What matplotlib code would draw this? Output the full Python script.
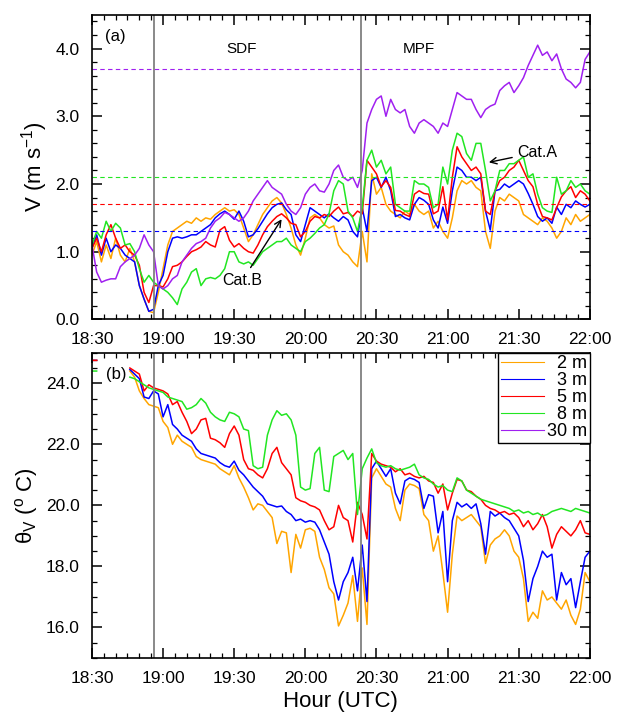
import numpy as np
import matplotlib.pyplot as plt
from matplotlib.ticker import MultipleLocator, FormatStrFormatter

plt.rcParams['font.family'] = ['Liberation Sans', 'DejaVu Sans']
plt.rcParams['mathtext.fontset'] = 'custom'
plt.rcParams['mathtext.rm'] = 'Liberation Sans'
plt.rcParams['mathtext.it'] = 'Liberation Sans:italic'

nan = np.nan

# time axis: minutes after 18:30 UTC, sampled every 2 min
minutes = np.arange(0, 211, 2)
hour_ticks = [0, 30, 60, 90, 120, 150, 180, 210]
hour_labels = ['18:30', '19:00', '19:30', '20:00', '20:30', '21:00', '21:30', '22:00']
heights = ['2 m', '3 m', '5 m', '8 m', '30 m']
colors = ['#FFA500', '#0000FF', '#FF0000', '#22E622', '#A020F0']

# front passages (minutes after 18:30)
front_times = [26, 113.3]

# mean wind speed reference levels (dashed)
ref_heights = ['3 m', '5 m', '8 m', '30 m']
ref_values = [1.3, 1.7, 2.1, 3.7]

# (a) wind speed V (m/s)
v_2m = [0.95, 1.15, 0.85, 1.1, 0.9, 1.2, 0.95, 0.85, 1.05, 0.85,
        0.5, 0.3, 0.12, 0.1, 0.4, 0.75, 1.1, 1.3, 1.35, 1.4,
        1.45, 1.42, 1.5, 1.45, 1.5, 1.48, 1.55, 1.6, 1.65, 1.6,
        1.62, 1.55, 1.35, 1.15, 1.25, 1.4, 1.55, 1.65, 1.75, 1.8,
        1.72, 1.55, 1.35, 1.1, 0.95, 1.2, 1.5, 1.55, 1.5, 1.4,
        1.35, 1.38, 1.1, 1.0, 0.95, 0.85, 0.78, 1.3, 0.85, 2.15,
        1.85, 1.95, 1.7, 1.6, 1.55, 1.5, 1.6, 1.55, 1.7, 1.6,
        1.55, 1.6, 1.35, 1.45, 1.3, 1.2, 1.5, 1.9, 2.05, 2.0,
        2.05, 1.95, 1.9, 1.3, 1.05, 1.6, 1.8, 1.75, 1.85, 1.8,
        1.75, 1.55, 1.5, 1.45, 1.4, 1.5, 1.45, 1.35, 1.2, 1.3,
        1.5, 1.4, 1.55, 1.45, 1.5, 1.55]
v_3m = [1.05, 1.25, 0.95, 1.2, 1.0, 1.1, 1.05, 0.95, 0.9, 0.85,
        0.5, 0.3, 0.12, 0.15, 0.5, 0.65, 1.0, 1.2, 1.22, 1.2,
        1.22, 1.25, 1.25, 1.3, 1.35, 1.4, 1.5, 1.56, 1.6, 1.55,
        1.48, 1.6, 1.45, 1.22, 1.25, 1.34, 1.45, 1.56, 1.65, 1.7,
        1.72, 1.62, 1.55, 1.25, 1.15, 1.4, 1.65, 1.6, 1.55, 1.5,
        1.56, 1.5, 1.45, 1.52, 1.47, 1.3, 1.22, 1.65, 1.3, 2.05,
        2.1, 1.95, 2.1, 1.9, 1.52, 1.55, 1.5, 1.47, 1.7, 1.8,
        1.76, 1.7, 1.47, 1.35, 1.66, 1.42, 1.9, 2.25, 2.2, 2.1,
        2.1, 2.05, 2.1, 1.6, 1.32, 1.9, 1.92, 2.0, 1.95, 2.0,
        2.05, 2.0, 1.86, 1.7, 1.52, 1.45, 1.5, 1.42, 1.66, 1.55,
        1.7, 1.65, 1.75, 1.7, 1.66, 1.7]
v_5m = [1.05, 1.2, 1.0, 1.25, 1.4, 1.2, 1.05, 1.1, 1.0, 0.95,
        0.8, 0.4, 0.25, 0.5, 0.5, 0.48, 0.6, 0.78, 0.8, 0.85,
        0.93, 1.0, 1.03, 1.07, 1.15, 1.1, 1.07, 1.32, 1.37, 1.17,
        1.07, 1.12, 1.05, 1.0, 0.98, 1.1, 1.25, 1.37, 1.45, 1.52,
        1.56, 1.5, 1.42, 1.4, 1.22, 1.3, 1.45, 1.52, 1.5, 1.55,
        1.52, 1.6, 1.66, 1.56, 1.58, 1.52, 1.6, 1.56, 2.35, 2.25,
        2.15, 1.96, 2.05, 1.95, 1.61, 1.6, 1.55, 1.52, 1.85, 1.9,
        1.86, 1.85, 1.56, 1.6, 1.96, 1.47, 2.1, 2.55, 2.4, 2.3,
        2.2, 2.25, 2.15, 1.6, 1.55, 1.9, 2.05, 2.1, 2.2, 2.25,
        2.35, 2.2, 2.05, 1.96, 1.7, 1.52, 1.5, 1.47, 1.65, 1.81,
        1.9, 1.96, 1.8, 1.9, 1.85, 1.75]
v_8m = [1.1, 1.3, 1.2, 1.45, 1.3, 1.42, 1.35, 1.1, 1.12, 1.0,
        0.75, 0.55, 0.65, 0.55, 0.5, 0.45, 0.4, 0.32, 0.22, 0.45,
        0.55, 0.7, 0.75, 0.5, 0.6, 0.62, 0.6, 0.65, 0.75, 1.0,
        1.0, 0.85, 0.82, 0.85, 0.8, 0.9, 1.0, 1.05, 1.1, 1.15,
        1.15, 1.2, 1.1, 1.05, 1.0, 1.15, 1.2, 1.27, 1.35, 1.4,
        1.56, 1.9, 2.05, 2.0, 1.6, 1.5, 1.3, 1.65, 2.35, 2.5,
        2.25, 2.35, 2.15, 2.25, 1.7, 1.65, 1.6, 1.6, 2.05, 2.0,
        2.0, 1.95, 1.65, 1.7, 2.25, 2.0, 2.5, 2.75, 2.7, 2.45,
        2.35, 2.6, 2.6, 2.2, 1.75, 1.9, 2.2, 2.2, 2.3, 2.3,
        2.35, 2.4, 2.1, 2.15, 1.85, 1.65, 1.6, 1.58, 2.1, 1.85,
        1.9, 2.05, 1.95, 2.0, 1.9, 1.85]
v_30m = [1.1, 0.7, 0.55, 0.58, 0.6, 0.6, 0.78, 0.85, 0.9, 0.95,
         1.05, 1.25, 1.1, 1.0, 0.5, 0.45, 0.5, 0.6, 0.65, 0.85,
         0.95, 1.05, 1.12, 1.15, 1.2, 1.35, 1.45, 1.5, 1.58, 1.55,
         1.5, 1.45, 1.5, 1.6, 1.75, 1.85, 1.95, 2.05, 1.95, 1.9,
         1.85, 1.7, 1.6, 1.55, 1.65, 1.85, 1.95, 2.0, 1.9, 1.88,
         2.0, 2.2, 2.28, 2.1, 2.05, 2.1, 1.95, 2.2, 2.9, 3.1,
         3.25, 3.3, 3.0, 3.25, 3.1, 3.05, 3.1, 2.85, 2.75, 2.9,
         2.95, 2.9, 2.85, 2.75, 2.9, 2.85, 3.1, 3.35, 3.3, 3.25,
         3.25, 3.1, 2.98, 3.1, 3.15, 3.18, 3.38, 3.45, 3.5, 3.35,
         3.45, 3.57, 3.75, 3.9, 4.05, 3.9, 3.95, 3.82, 3.92, 3.7,
         3.55, 3.5, 3.42, 3.5, 3.84, 3.95]

# (b) virtual potential temperature (deg C); no 30 m sensor
th_2m = [24.75, 24.75, nan, nan, nan, nan, nan, nan, 24.4, 24.2,
         23.75, 23.5, 23.3, 23.25, 23.2, 22.75, 22.55, 22.0, 22.3, 22.1,
         22.0, 21.9, 21.6, 21.5, 21.45, 21.4, 21.35, 21.2, 21.1, 21.0,
         21.3, 20.9, 20.6, 20.25, 19.85, 20.05, 20.0, 19.8, 19.6, 18.75,
         19.15, 19.1, 17.8, 19.05, 18.6, 19.2, 19.25, 19.15, 18.3, 17.9,
         17.3, 17.1, 16.05, 16.4, 16.8, 17.7, 16.2, 17.95, 16.1, 20.9,
         21.2, 20.95, 20.7, 20.6, 19.9, 19.5, 20.5, 20.7, 20.65, 20.55,
         19.7, 19.5, 18.5, 19.0, 17.8, 16.5, 18.4, 19.65, 19.5, 19.6,
         19.7, 19.5, 19.3, 18.1, 18.7, 18.9, 19.0, 19.2, 19.0, 18.5,
         18.3, 17.6, 16.2, 16.5, 16.3, 17.2, 16.9, 17.0, 16.8, 16.6,
         16.9, 16.4, 16.1, 16.6, 17.8, 17.5]
th_3m = [24.75, 24.75, nan, nan, nan, nan, nan, nan, 24.45, 24.3,
         24.15, 23.55, 23.5, 23.75, 23.65, 22.9, 23.3, 22.65, 22.5, 22.3,
         22.2, 22.1, 21.85, 21.7, 21.65, 21.6, 21.55, 21.4, 21.3, 21.25,
         21.45, 21.15, 21.0, 20.8, 20.6, 20.45, 20.3, 20.05, 20.0, 19.95,
         19.98, 19.8, 19.7, 19.5, 19.55, 19.45, 19.5, 19.45, 19.2, 18.8,
         18.4, 17.5, 16.9, 17.5, 17.8, 18.3, 17.2, 18.7, 16.85, 21.2,
         21.45, 21.2, 20.95, 21.2, 20.4, 20.05, 20.8, 20.9, 20.85, 20.75,
         19.9, 20.35, 20.3, 19.1, 19.8, 17.5, 19.5, 20.1, 19.95, 20.05,
         19.9, 20.05, 19.4, 18.4, 19.8, 19.65, 19.75, 19.6, 19.5, 19.25,
         19.0, 18.2, 16.85, 17.6, 18.0, 18.5, 18.3, 18.4, 16.9, 17.8,
         17.4, 17.6, 16.65, 17.5, 18.3, 18.5]
th_5m = [24.75, 24.75, nan, nan, nan, nan, nan, nan, 24.5, 24.4,
         24.3, 23.75, 23.95, 23.85, 23.8, 23.75, 23.65, 23.3, 23.4, 23.05,
         22.75, 22.35, 22.5, 22.8, 22.85, 22.2, 22.15, 22.05, 21.9, 22.35,
         22.6, 22.3, 21.5, 21.2, 21.15, 21.0, 20.9, 21.2, 21.7, 21.9,
         21.4, 21.2, 21.0, 20.25, 20.15, 20.1, 20.0, 19.95, 19.85, 19.5,
         19.2, 19.3, 20.0, 19.6, 19.5, 18.8, 20.1, 19.7, 18.9, 21.7,
         21.45, 21.35, 21.3, 21.25, 21.1, 21.2, 21.0, 21.05, 20.95, 20.9,
         20.95, 20.8, 20.75, 20.4, 20.7, 19.85, 20.4, 20.85, 20.8, 20.5,
         20.45, 20.3, 20.2, 20.0, 19.9, 19.85, 19.75, 19.8, 19.7, 19.75,
         19.6, 19.3, 19.5, 19.2, 19.4, 19.7, 19.3, 18.6, 19.05, 19.3,
         19.15, 19.0, 19.2, 19.5, 19.1, 19.05]
th_8m = [24.4, 24.4, nan, nan, nan, nan, nan, nan, 24.2, 24.15,
         24.05, 23.95, 23.85, 23.8, 23.75, 23.7, 23.55, 23.5, 23.45, 23.4,
         23.15, 23.2, 23.3, 23.5, 23.35, 23.05, 22.9, 22.8, 22.75, 23.05,
         23.0, 22.9, 22.5, 22.45, 21.3, 21.2, 21.25, 22.3, 22.8, 23.1,
         22.95, 23.0, 22.8, 22.3, 20.6, 20.5, 20.55, 21.7, 21.9, 20.5,
         20.45, 21.6, 21.7, 21.8, 21.5, 21.7, 19.7, 21.2, 21.55, 21.85,
         21.4, 21.3, 21.25, 21.3, 21.2, 21.15, 21.2, 21.25, 21.35, 21.0,
         20.9, 20.85, 20.7, 20.6, 20.65, 20.5, 20.45, 20.9, 20.8, 20.5,
         20.4, 20.3, 20.2, 20.15, 20.1, 20.05, 20.0, 19.95, 19.9, 19.8,
         19.85, 19.75, 19.8, 19.7, 19.75, 19.65, 19.7, 19.8, 19.85, 19.9,
         19.85, 19.8, 19.9, 19.85, 19.8, 19.75]

wind = [v_2m, v_3m, v_5m, v_8m, v_30m]
theta = [th_2m, th_3m, th_5m, th_8m]

fig = plt.figure(figsize=(6.17, 7.2), dpi=100)
ax1 = fig.add_axes([0.149, 0.5563, 0.807, 0.4233])
ax2 = fig.add_axes([0.149, 0.0861, 0.807, 0.424])

# --- panel (a)
handles = []
for vals, col, lab in zip(wind, colors, heights):
    h, = ax1.plot(minutes, vals, color=col, lw=1.1, label=lab)
    handles.append(h)
for lab, val in zip(ref_heights, ref_values):
    ax1.axhline(val, color=colors[heights.index(lab)], lw=0.8, ls=(0, (4, 3)))
for t in front_times:
    ax1.axvline(t, color='#808080', lw=1.3)

ax1.set_ylim(0, 4.5)
ax1.yaxis.set_major_locator(MultipleLocator(1.0))
ax1.yaxis.set_minor_locator(MultipleLocator(0.2))
ax1.set_ylabel('V (m s$^{-1}$)', fontsize=16)
ax1.text(0.026, 0.93, '(a)', transform=ax1.transAxes, fontsize=12, va='center')
ax1.text(63, 4.0, 'SDF', fontsize=11, ha='center', va='center')
ax1.text(138, 4.0, 'MPF', fontsize=11, ha='center', va='center')
ax1.annotate('Cat.A', xy=(167.4, 2.32), xytext=(188, 2.47), fontsize=11.5,
             ha='center', va='center',
             arrowprops=dict(arrowstyle='->', color='black', lw=1.0, shrinkA=2, shrinkB=0))
ax1.annotate('Cat.B', xy=(80, 1.48), xytext=(63.5, 0.58), fontsize=11.5,
             ha='center', va='center',
             arrowprops=dict(arrowstyle='->', color='black', lw=1.0, shrinkA=2, shrinkB=0))

# --- panel (b)
for vals, col in zip(theta, colors):
    ax2.plot(minutes, vals, color=col, lw=1.1)
for t in front_times:
    ax2.axvline(t, color='#808080', lw=1.3)

ax2.set_ylim(15, 25)
ax2.yaxis.set_major_locator(MultipleLocator(2.0))
ax2.yaxis.set_minor_locator(MultipleLocator(0.5))
ax2.set_ylabel('θ$_\\mathrm{V}$ ($^\\mathrm{o}$ C)', fontsize=16)
ax2.set_xlabel('Hour (UTC)', fontsize=16)
ax2.text(0.028, 0.929, '(b)', transform=ax2.transAxes, fontsize=12, va='center')

leg_labels = ['\u2007' + lab if len(lab) < 4 else lab for lab in heights]
leg = ax2.legend(handles, leg_labels, loc='upper right', fontsize=13,
                 handlelength=2.4, handletextpad=0.15, labelspacing=0.0,
                 borderpad=0.15, borderaxespad=0, fancybox=False,
                 edgecolor='black', framealpha=1)
leg.get_frame().set_linewidth(1.0)
for ln in leg.get_lines():
    ln.set_linewidth(0.8)

for ax in (ax1, ax2):
    ax.set_xlim(0, 210)
    ax.set_xticks(hour_ticks)
    ax.set_xticklabels(hour_labels)
    ax.xaxis.set_minor_locator(MultipleLocator(5))
    ax.yaxis.set_major_formatter(FormatStrFormatter('%.1f'))
    ax.tick_params(which='both', direction='in', top=True, right=True,
                   labelsize=12.5, pad=9)
    ax.tick_params(which='major', length=7, width=1.1)
    ax.tick_params(which='minor', length=3.5, width=0.9)
    for sp in ax.spines.values():
        sp.set_linewidth(1.2)

fig.savefig('out.png', dpi=100)
